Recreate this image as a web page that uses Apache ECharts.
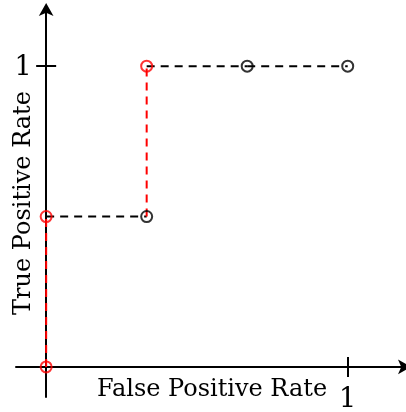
<!DOCTYPE html>
<html>
<head>
<meta charset="utf-8">
<style>
  html, body { margin: 0; padding: 0; background: #fff; }
  #chart { width: 406px; height: 412px; }
</style>
<script src="https://cdn.jsdelivr.net/npm/echarts@6/dist/echarts.min.js"></script>
</head>
<body>
<div id="chart"></div>
<script>
// ROC curve points (false positive rate, true positive rate)
const fpr = [0, 0, 1 / 3, 1 / 3, 2 / 3, 1];
const tpr = [0, 0.5, 0.5, 1, 1, 1];
// points lying on the optimal staircase are highlighted
const highlighted = [true, true, false, true, false, false];
const tickValues = [1];
const xName = 'False Positive Rate';
const yName = 'True Positive Rate';

const RED = '#ff0000';
const BLACK = '#000000';
const FONT = 'DejaVu Serif';

// Each step between consecutive points becomes its own dashed segment:
// vertical rises in red, horizontal runs in black.
const segmentSeries = [];
for (let i = 0; i < fpr.length - 1; i++) {
  const vertical = fpr[i] === fpr[i + 1];
  segmentSeries.push({
    type: 'line',
    data: [[fpr[i], tpr[i]], [fpr[i + 1], tpr[i + 1]]],
    symbol: 'none',
    lineStyle: { color: vertical ? RED : BLACK, width: 2, type: [8, 6] },
    z: 3,
    silent: true
  });
}

const markerSeries = [true, false].map(flag => ({
  type: 'scatter',
  data: fpr.map((x, i) => [x, tpr[i]]).filter((_, i) => highlighted[i] === flag),
  symbol: 'circle',
  symbolSize: 11,
  itemStyle: { color: 'none', borderColor: flag ? RED : BLACK, borderWidth: 2 },
  z: 4,
  silent: true
}));

const range = { min: -0.1, max: 1.19 };

function axisPair(dim) {
  const isX = dim === 'x';
  const base = {
    type: 'value',
    min: range.min,
    max: range.max,
    position: isX ? 'bottom' : 'left',
    splitLine: { show: false },
    axisLabel: { show: false },
    axisLine: { onZero: true, show: false }
  };
  // axis line with arrow and the outward half of the tick
  const outer = Object.assign({}, base, {
    axisLine: {
      show: true,
      onZero: true,
      symbol: ['none', 'arrow'],
      symbolSize: [11, 13],
      symbolOffset: [0, 6],
      lineStyle: { color: BLACK, width: 2 }
    },
    axisTick: { show: true, length: 10, customValues: tickValues, lineStyle: { color: BLACK, width: 2 } }
  });
  // inward half of the tick
  const inner = Object.assign({}, base, {
    axisTick: { show: true, inside: true, length: 10, customValues: tickValues, lineStyle: { color: BLACK, width: 2 } }
  });
  return [outer, inner];
}

const chart = echarts.init(document.getElementById('chart'), null, { renderer: 'canvas' });
chart.setOption({
  animation: false,
  backgroundColor: '#ffffff',
  grid: {
    left: 16, right: 1, top: 9, bottom: 15,
    containLabel: false,
    outerBoundsMode: 'none'
  },
  xAxis: axisPair('x'),
  yAxis: axisPair('y'),
  series: segmentSeries.concat(markerSeries)
});

// Tick labels and axis titles, placed relative to the axes' own pixel scale.
const origin = chart.convertToPixel({ gridIndex: 0 }, [0, 0]);
const textStyle = (text, size) => ({
  text, fill: BLACK, font: size + 'px "' + FONT + '"', align: 'center', verticalAlign: 'middle'
});
const graphics = [];
tickValues.forEach(v => {
  const px = chart.convertToPixel({ gridIndex: 0 }, [v, v]);
  graphics.push({ type: 'text', x: px[0], y: origin[1] + 33, style: textStyle(String(v), 27) });
  graphics.push({ type: 'text', x: origin[0] - 23, y: px[1] + 2, style: textStyle(String(v), 27) });
});
const mid = chart.convertToPixel({ gridIndex: 0 }, [0.55, 0.545]);
graphics.push({ type: 'text', x: mid[0], y: origin[1] + 23, style: textStyle(xName, 24) });
graphics.push({ type: 'text', x: origin[0] - 22, y: mid[1], rotation: Math.PI / 2, style: textStyle(yName, 24) });
chart.setOption({ graphic: graphics });
</script>
</body>
</html>
